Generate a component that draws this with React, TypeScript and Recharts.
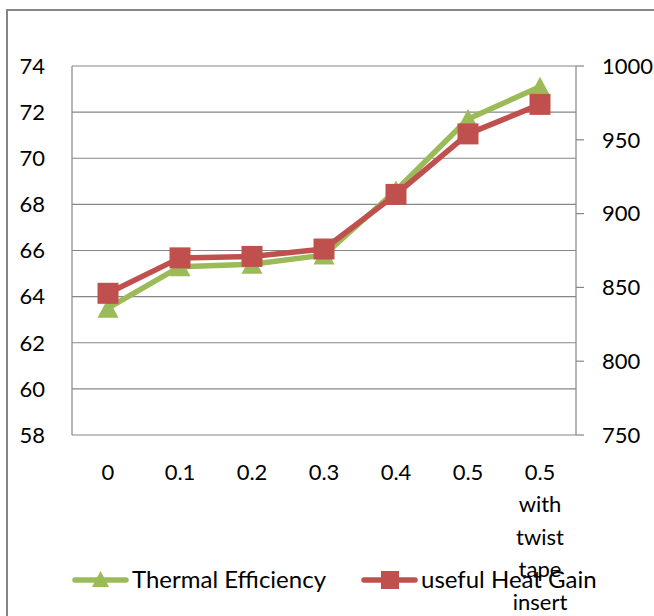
import React from 'react';
import { LineChart, Line, XAxis, YAxis, CartesianGrid, Legend } from 'recharts';

const categories = ['0', '0.1', '0.2', '0.3', '0.4', '0.5', '0.5 with twist tape insert'];
const thermalEfficiency = [63.5, 65.3, 65.4, 65.8, 68.6, 71.7, 73.1];
const usefulHeatGain = [846, 870, 871, 876, 913, 954, 974];
const leftTicks = [58, 60, 62, 64, 66, 68, 70, 72, 74];
const rightTicks = [750, 800, 850, 900, 950, 1000];
const seriesNames = ['Thermal Efficiency', 'useful Heat Gain'];

const GREEN = '#9BBB59';
const RED = '#C0504D';
const GRID = '#868686';
const FONT = 'Lato, "Open Sans", sans-serif';
const FS = 22;
const LFS = 24;

const data = categories.map((c, i) => ({ name: c, te: thermalEfficiency[i], hg: usefulHeatGain[i] }));

const Triangle = (props: any) => {
  const { cx, cy } = props;
  if (cx == null || cy == null) return null;
  return <polygon points={`${cx},${cy - 10} ${cx - 10.5},${cy + 9.5} ${cx + 10.5},${cy + 9.5}`} fill={GREEN} />;
};

const Square = (props: any) => {
  const { cx, cy } = props;
  if (cx == null || cy == null) return null;
  return <rect x={cx - 10.5} y={cy - 10.5} width={21} height={21} fill={RED} />;
};

const XTick = (props: any) => {
  const { x, y, payload } = props;
  const words = String(payload.value).split(' ');
  return (
    <text x={x} y={y} textAnchor="middle" fontFamily={FONT} fontSize={FS} fill="#000">
      {words.map((w, i) => (
        <tspan key={i} x={x} dy={i === 0 ? 44.5 : 32.5}>{w}</tspan>
      ))}
    </text>
  );
};

const LegendContent = () => (
  <div style={{ position: 'relative', width: 654, height: 30, fontFamily: FONT, fontSize: LFS, color: '#000' }}>
    <svg style={{ position: 'absolute', left: 71, top: 1 }} width={60} height={22}>
      <line x1={4} y1={11} x2={55} y2={11} stroke={GREEN} strokeWidth={5.5} strokeLinecap="round" />
      <polygon points="29.5,2 21,18 38,18" fill={GREEN} />
    </svg>
    <span style={{ position: 'absolute', left: 132, top: -3, lineHeight: '28px', whiteSpace: 'nowrap' }}>{seriesNames[0]}</span>
    <svg style={{ position: 'absolute', left: 360, top: 1 }} width={60} height={22}>
      <line x1={4} y1={11} x2={55} y2={11} stroke={RED} strokeWidth={5.5} strokeLinecap="round" />
      <rect x={21} y={2} width={18} height={18} fill={RED} />
    </svg>
    <span style={{ position: 'absolute', left: 421, top: -3, lineHeight: '28px', whiteSpace: 'nowrap' }}>{seriesNames[1]}</span>
  </div>
);

export default function App() {
  return (
    <div style={{ position: 'absolute', left: 0, top: 0, width: 654, height: 616, background: '#fff', overflow: 'hidden' }}>
      <div style={{ position: 'absolute', left: 6, top: 9, width: 700, height: 700, border: `2px solid ${GRID}`, boxSizing: 'border-box' }} />
      <div style={{ position: 'absolute', left: 0, top: 0 }}>
        <LineChart width={654} height={616} data={data} margin={{ top: 66, right: 0, bottom: 0, left: 0 }}>
          <CartesianGrid vertical={false} stroke={GRID} strokeWidth={1.2} yAxisId="left" />
          <XAxis
            dataKey="name"
            height={181}
            padding={{ left: 36, right: 36 }}
            axisLine={false}
            tickLine={false}
            tickSize={0}
            tickMargin={0}
            interval={0}
            tick={<XTick />}
          />
          <YAxis
            yAxisId="left"
            orientation="left"
            width={72}
            domain={[58, 74]}
            ticks={leftTicks}
            interval={0}
            axisLine={{ stroke: GRID, strokeWidth: 1.2 }}
            tickLine={false}
            tickSize={0}
            tickMargin={27}
            tick={{ fill: '#000', fontFamily: FONT, fontSize: FS }}
          />
          <YAxis
            yAxisId="right"
            orientation="right"
            width={78}
            domain={[750, 1000]}
            ticks={rightTicks}
            interval={0}
            axisLine={{ stroke: GRID, strokeWidth: 1.2 }}
            tickLine={{ stroke: GRID, strokeWidth: 1.2 }}
            tickSize={8}
            tickMargin={18}
            tick={{ fill: '#000', fontFamily: FONT, fontSize: FS, textAnchor: 'start' }}
          />
          <Legend
            layout="horizontal"
            verticalAlign="middle"
            align="center"
            content={<LegendContent />}
            wrapperStyle={{ top: 568, left: 0, width: 654 }}
          />
          <Line
            yAxisId="left"
            type="linear"
            dataKey="te"
            name={seriesNames[0]}
            stroke={GREEN}
            strokeWidth={5.5}
            strokeLinejoin="round"
            dot={<Triangle />}
            activeDot={false}
            isAnimationActive={false}
          />
          <Line
            yAxisId="right"
            type="linear"
            dataKey="hg"
            name={seriesNames[1]}
            stroke={RED}
            strokeWidth={5.5}
            strokeLinejoin="round"
            dot={<Square />}
            activeDot={false}
            isAnimationActive={false}
          />
        </LineChart>
      </div>
    </div>
  );
}
